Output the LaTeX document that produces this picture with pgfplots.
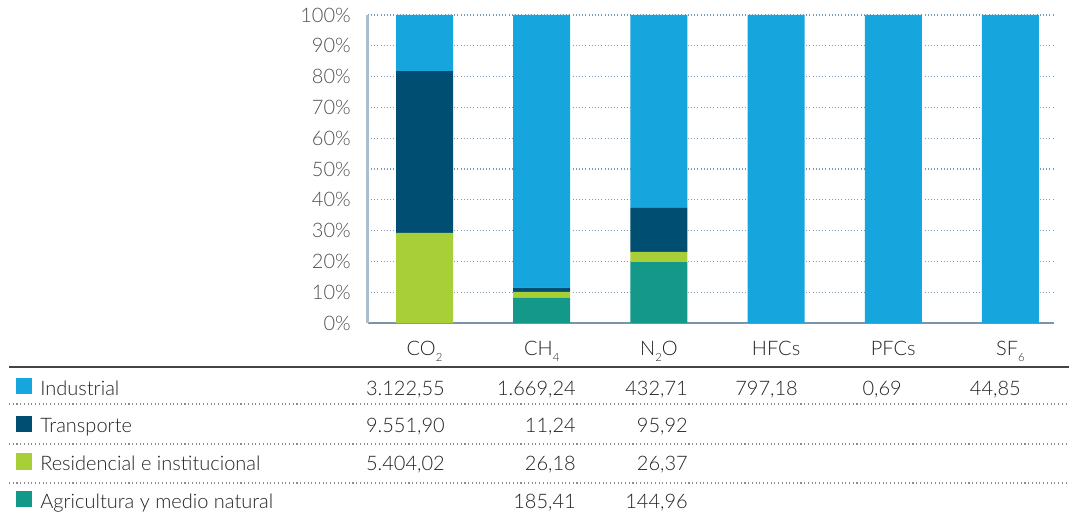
\documentclass[border=0pt]{standalone}
\usepackage{pgfplots}
\pgfplotsset{compat=1.18}
\usepackage{fontspec}
\setmainfont{Lato Light}
\definecolor{cInd}{RGB}{23,165,222}
\definecolor{cTra}{RGB}{0,79,114}
\definecolor{cRes}{RGB}{168,206,56}
\definecolor{cAgr}{RGB}{19,152,138}
\definecolor{gridc}{RGB}{120,155,185}
\definecolor{yaxc}{RGB}{170,190,205}
\definecolor{xaxc}{RGB}{120,150,170}
\definecolor{tickc}{RGB}{80,80,80}
\definecolor{tabc}{RGB}{35,35,35}
\definecolor{sepc}{RGB}{140,140,140}
\newcommand{\sub}[1]{\raisebox{-5pt}{\fontsize{8.5pt}{9pt}\selectfont #1}}
\begin{document}
\fontsize{15pt}{18pt}\selectfont
\begin{tikzpicture}[x=0.75pt,y=0.75pt]
\path[use as bounding box] (0,0) rectangle (1069,518);
\begin{axis}[
  at={(275.775pt,146.25pt)}, anchor=south west,
  scale only axis, width=513.975pt, height=231pt,
  xmin=-0.485, xmax=5.363, ymin=0, ymax=100,
  ybar stacked, bar width=42.75pt,
  axis x line*=bottom, axis y line*=left,
  x axis line style={draw=xaxc, line width=1pt, -},
  y axis line style={draw=yaxc, line width=2pt, -},
  major tick length=0pt,
  ytick={0,10,...,100},
  yticklabel={\pgfmathprintnumber[assume math mode=true]{\tick}\%},
  yticklabel style={anchor=east, inner sep=0pt, xshift=-12.5pt, text=tickc, font=\fontsize{15pt}{18pt}\selectfont},
  xtick={0,1,2,3,4,5},
  xticklabels={CO\sub{2},CH\sub{4},N\sub{2}O,HFCs,PFCs,SF\sub{6}},
  xticklabel style={anchor=base, inner sep=0pt, yshift=-24pt, text=tabc, font=\fontsize{15pt}{18pt}\selectfont},
  ymajorgrids, grid style={dotted, draw=gridc, line width=0.9pt},
  every axis plot/.append style={draw=none},
]
\addplot[fill=cAgr] coordinates {(0,0) (1,8.2) (2,19.8) (3,0) (4,0) (5,0)};
\addplot[fill=cRes] coordinates {(0,29.3) (1,1.9) (2,3.3) (3,0) (4,0) (5,0)};
\addplot[fill=cTra] coordinates {(0,52.5) (1,1.4) (2,14.3) (3,0) (4,0) (5,0)};
\addplot[fill=cInd] coordinates {(0,18.2) (1,88.5) (2,62.6) (3,100) (4,100) (5,100)};
\end{axis}
% table
\draw[draw=tabc!85, line width=1pt] (9,151) -- (1069,151);
\foreach \yy in {114,74,35} {\draw[draw=sepc, dotted, line width=0.8pt] (9,\yy) -- (1069,\yy);}
\fill[cInd] (15.7,123.7) rectangle (32.3,140);
\fill[cTra] (15.7,86) rectangle (32.3,102.3);
\fill[cRes] (15.7,48.4) rectangle (32.3,64.7);
\fill[cAgr] (15.7,10.7) rectangle (32.3,27);
\begin{scope}[every node/.style={inner sep=0pt, text=tabc, font=\fontsize{15pt}{18pt}\selectfont}]
\node[anchor=base west] at (40,123) {Industrial};
\node[anchor=base west] at (40,85.3) {Transporte};
\node[anchor=base west] at (40,47.7) {Residencial e institucional};
\node[anchor=base west] at (40,10) {Agricultura y medio natural};
% row 1
\node[anchor=base east] at (445,123) {3.122,55};
\node[anchor=base east] at (576,123) {1.669,24};
\node[anchor=base east] at (688,123) {432,71};
\node[anchor=base east] at (798,123) {797,18};
\node[anchor=base east] at (902,123) {0,69};
\node[anchor=base east] at (1021,123) {44,85};
% row 2
\node[anchor=base east] at (445,85.3) {9.551,90};
\node[anchor=base east] at (576,85.3) {11,24};
\node[anchor=base east] at (688,85.3) {95,92};
% row 3
\node[anchor=base east] at (445,47.7) {5.404,02};
\node[anchor=base east] at (576,47.7) {26,18};
\node[anchor=base east] at (688,47.7) {26,37};
% row 4
\node[anchor=base east] at (576,10) {185,41};
\node[anchor=base east] at (688,10) {144,96};
\end{scope}
\end{tikzpicture}
\end{document}
